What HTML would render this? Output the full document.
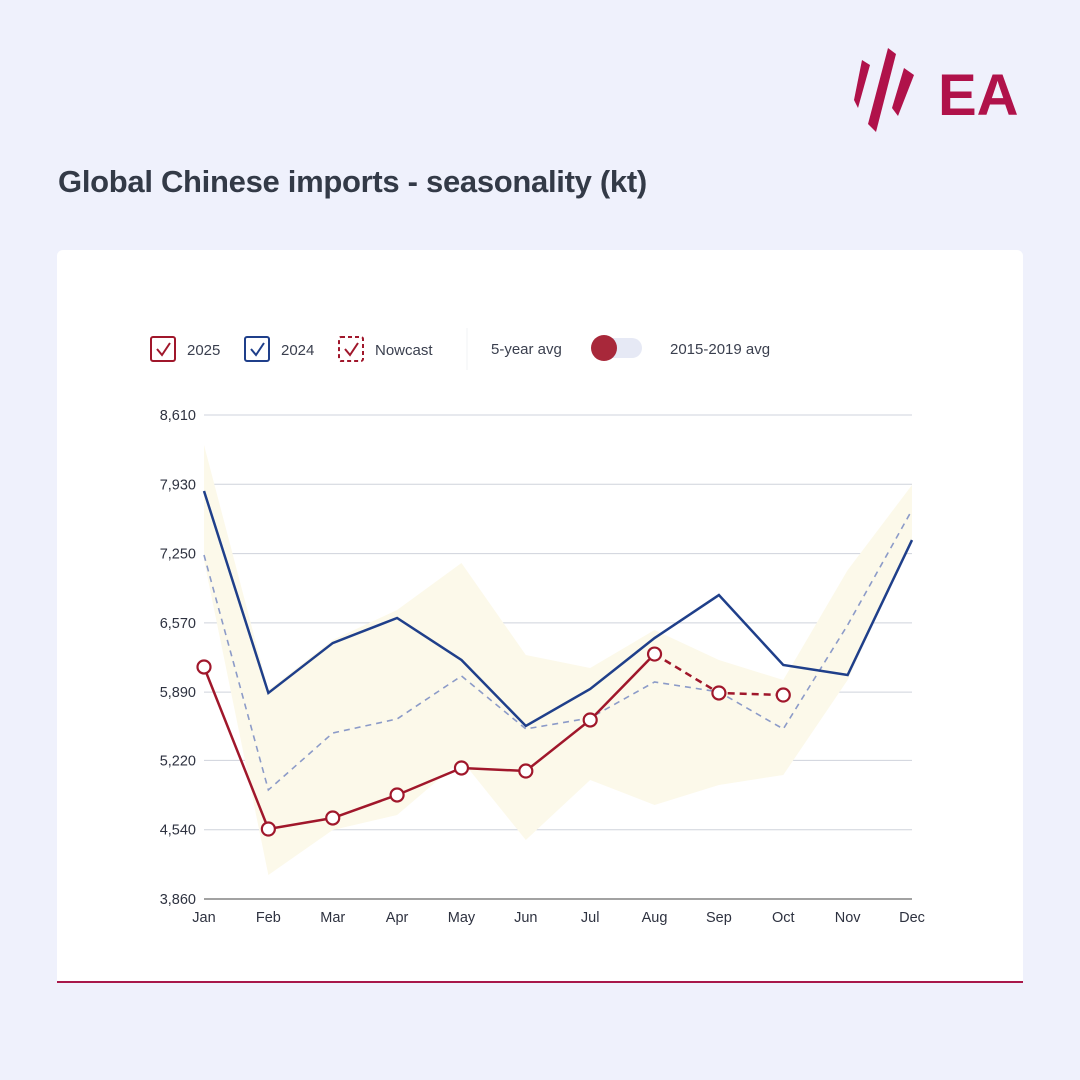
<!DOCTYPE html>
<html><head><meta charset="utf-8"><style>
body{margin:0;width:1080px;height:1080px;background:#eff1fc;font-family:"Liberation Sans",sans-serif;position:relative;overflow:hidden}
.title{position:absolute;left:58px;top:164px;font-size:31px;font-weight:bold;color:#333a47;letter-spacing:-0.3px}
.card{position:absolute;left:57px;top:250px;width:966px;height:732px;background:#fff;border-radius:6px 6px 0 0}
.rule{position:absolute;left:57px;top:981px;width:966px;height:2px;background:#a8184a}
</style></head><body>
<svg style="position:absolute;left:840px;top:40px" width="200" height="100" viewBox="0 0 200 100">
<polygon points="22,20 30,25 18,68 14,60" fill="#b0124a"/>
<polygon points="48,8 56,14 36,92 28,84" fill="#b0124a"/>
<polygon points="64,28 74,35 58,76 52,68" fill="#b0124a"/>
<text x="98" y="75" font-size="58" font-weight="bold" fill="#b0124a" font-family="Liberation Sans,sans-serif">EA</text>
</svg>
<div class="title">Global Chinese imports - seasonality (kt)</div>
<div class="card"></div>
<div class="rule"></div>
<svg id="chart" style="position:absolute;left:0;top:0" width="1080" height="1080"></svg>
<script>
const months=["Jan","Feb","Mar","Apr","May","Jun","Jul","Aug","Sep","Oct","Nov","Dec"];
const yTicks=[3860,4540,5220,5890,6570,7250,7930,8610];
const s2024=[7864,5882,6372,6618,6206,5558,5921,6421,6843,6157,6058,7383];
const s2025=[6137,4547,4655,4881,5146,5116,5617,6264];
const nowcast=[6264,5882,5862];
const avg5=[7236,4930,5489,5627,6049,5529,5637,5990,5892,5529,6549,7678];
const bandHi=[8316,5911,6402,6696,7157,6255,6127,6500,6206,6009,7088,7923];
const bandLo=[7187,4095,4537,4684,5224,4439,5028,4783,4979,5077,6009,7383];
const svg=document.getElementById('chart');const NS='http://www.w3.org/2000/svg';
const X=i=>204+i*(912-204)/11;
const Y=v=>899-(v-3860)/(8610-3860)*484;
function mk(t,a,p){const e=document.createElementNS(NS,t);for(const k in a)e.setAttribute(k,a[k]);(p||svg).appendChild(e);return e;}
const lg=mk('g',{});


function box(x,col,dash,label,name){const g=mk('g',{},lg);


mk('rect',{x:x,y:337,width:24,height:24,rx:2,fill:'none',stroke:col,'stroke-width':2,'stroke-dasharray':dash||'none'},g);
mk('polyline',{points:`${x+6},${349} ${x+11},${355} ${x+19},${343}`,fill:'none',stroke:col,'stroke-width':2},g);
const t=mk('text',{x:x+36,y:355,'font-size':15,fill:'#3a3f4e'},g);t.textContent=label;}
box(151,'#a0172b','','2025','legend-2025');
box(245,'#1f3f8a','','2024','legend-2024');
box(339,'#a0172b','4,3','Nowcast','legend-nowcast');
mk('line',{x1:467,y1:328,x2:467,y2:370,stroke:'#f2f3f6'},lg);
let t=mk('text',{x:491,y:354,'font-size':15,fill:'#3a3f4e'},lg);t.textContent='5-year avg';
const tg=mk('g',{},lg);


mk('rect',{x:592,y:338,width:50,height:20,rx:10,fill:'#e6e9f5'},tg);
mk('circle',{cx:604,cy:348,r:13,fill:'#a8283a'},tg);
t=mk('text',{x:670,y:354,'font-size':15,fill:'#3a3f4e'},lg);t.textContent='2015-2019 avg';
yTicks.forEach(v=>{const l=mk('line',{x1:204,x2:912,y1:Y(v),y2:Y(v),stroke:v===3860?'#444':'#cfd3dc','stroke-width':1});


const tx=mk('text',{x:196,y:Y(v)+5,'font-size':14.5,fill:'#2e3240','text-anchor':'end'});tx.textContent=v.toLocaleString('en-US');

});
months.forEach((m,i)=>{const tx=mk('text',{x:X(i),y:922,'font-size':14.5,fill:'#2e3240','text-anchor':'middle'});tx.textContent=m;

});
const bp=bandHi.map((v,i)=>`${X(i)},${Y(v)}`).concat(bandLo.map((v,i)=>`${X(i)},${Y(v)}`).reverse()).join(' ');
const band=mk('polygon',{points:bp,fill:'#fcf9ea'});


const pts=(arr,o)=>arr.map((v,i)=>`${X(i+(o||0))},${Y(v)}`).join(' ');
const a=mk('polyline',{points:pts(avg5),fill:'none',stroke:'#8c9bc8','stroke-width':1.6,'stroke-dasharray':'6,5'});


const b=mk('polyline',{points:pts(s2024),fill:'none',stroke:'#1f3f8a','stroke-width':2.5});


const c=mk('polyline',{points:pts(s2025),fill:'none',stroke:'#a0172b','stroke-width':2.5});


const d=mk('polyline',{points:pts(nowcast,7),fill:'none',stroke:'#a0172b','stroke-width':2.5,'stroke-dasharray':'7,5'});


s2025.forEach((v,i)=>{const p=mk('circle',{cx:X(i),cy:Y(v),r:6.5,fill:'#fff',stroke:'#a0172b','stroke-width':2.2});

});
nowcast.slice(1).forEach((v,i)=>{const p=mk('circle',{cx:X(i+8),cy:Y(v),r:6.5,fill:'#fff',stroke:'#a0172b','stroke-width':2.2});

});
</script>
</body></html>
